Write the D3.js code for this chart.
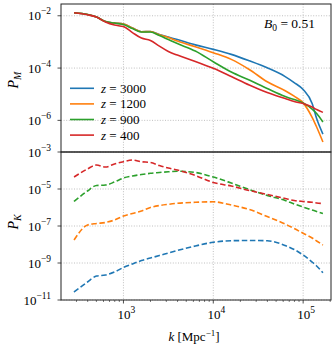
<!DOCTYPE html>
<html>
<head>
<meta charset="utf-8">
<script src="https://cdn.jsdelivr.net/npm/d3@7"></script>
<style>
  body { margin: 0; background: #fff; }
</style>
</head>
<body>
<svg width="334" height="350" font-family="'Liberation Serif', 'Times New Roman', 'DejaVu Serif', serif"></svg>
<script>
// wavenumbers k [Mpc^-1]
var kValues = [282, 398, 501, 631, 794, 1000, 1259, 1585, 1995, 2512, 3162, 3981,
  6310, 10000, 15850, 25120, 39810, 63100, 79430, 100000, 125900, 141300, 166000];

// top panel P_M
var pm3000 = [1.30e-2, 1.11e-2, 8.91e-3, 6.0e-3, 5.26e-3, 4.82e-3, 3.39e-3, 2.44e-3, 2.49e-3,
  1.91e-3, 1.53e-3, 1.23e-3, 7.71e-4, 5.19e-4, 3.34e-4, 1.90e-4, 1.02e-4, 4.73e-5, 2.79e-5,
  1.51e-5, 4.43e-6, 1.17e-6, 2.99e-7];
var pm1200 = [1.30e-2, 1.11e-2, 8.91e-3, 6.0e-3, 5.26e-3, 4.82e-3, 3.39e-3, 2.44e-3, 2.49e-3,
  1.87e-3, 1.47e-3, 1.08e-3, 6.53e-4, 3.85e-4, 2.15e-4, 8.83e-5, 2.99e-5, 1.36e-5, 8.41e-6,
  4.67e-6, 1.30e-6, 5.55e-7, 1.48e-7];
var pm900 = [1.30e-2, 1.11e-2, 8.91e-3, 6.0e-3, 5.26e-3, 4.60e-3, 3.24e-3, 2.38e-3, 2.38e-3,
  1.75e-3, 1.23e-3, 8.65e-4, 4.47e-4, 1.74e-4, 7.03e-5, 3.48e-5, 1.64e-5, 8.13e-6, 6.24e-6,
  4.59e-6, 2.70e-6, 1.82e-6, 8.61e-7];
var pm400 = [1.30e-2, 1.09e-2, 8.91e-3, 5.74e-3, 4.41e-3, 3.86e-3, 2.28e-3, 1.40e-3, 1.13e-3,
  6.93e-4, 4.28e-4, 3.14e-4, 1.80e-4, 9.75e-5, 4.73e-5, 2.24e-5, 1.16e-5, 6.82e-6, 5.24e-6,
  4.39e-6, 3.23e-6, 2.59e-6, 2.02e-6];

// bottom panel P_K
var pk3000 = [2.70e-11, 9.40e-11, 1.98e-10, 2.24e-10, 3.27e-10, 5.71e-10, 8.83e-10, 1.36e-9,
  1.86e-9, 2.54e-9, 3.48e-9, 4.74e-9, 8.30e-9, 1.32e-8, 1.60e-8, 1.64e-8, 1.60e-8, 8.83e-9,
  5.37e-9, 2.70e-9, 1.13e-9, 6.89e-10, 2.99e-10];
var pk1200 = [1.75e-8, 1.13e-7, 1.36e-7, 1.55e-7, 2.11e-7, 3.48e-7, 4.74e-7, 6.47e-7, 1.0e-6,
  1.28e-6, 1.49e-6, 1.69e-6, 1.91e-6, 2.03e-6, 1.36e-6, 7.80e-7, 3.27e-7, 1.28e-7, 7.33e-8,
  4.03e-8, 2.24e-8, 1.55e-8, 9.40e-9];
var pk900 = [2.11e-6, 7.80e-6, 1.55e-5, 1.64e-5, 2.39e-5, 3.94e-5, 5.05e-5, 6.08e-5, 7.06e-5,
  7.80e-5, 8.51e-5, 9.16e-5, 7.80e-5, 4.46e-5, 2.11e-5, 9.40e-6, 4.46e-6, 2.39e-6, 1.55e-6,
  1.06e-6, 7.33e-7, 6.08e-7, 4.74e-7];
var pk400 = [4.46e-5, 1.21e-4, 1.98e-4, 1.55e-4, 2.24e-4, 2.99e-4, 3.70e-4, 2.99e-4, 2.70e-4,
  1.86e-4, 1.36e-4, 1.06e-4, 5.37e-5, 2.24e-5, 1.45e-5, 8.30e-6, 5.05e-6, 3.06e-6, 2.39e-6,
  2.11e-6, 1.91e-6, 1.75e-6, 1.64e-6];

var seriesNames = ["3000", "1200", "900", "400"];
var colors = ["#1f77b4", "#ff7f0e", "#2ca02c", "#d62728"];
var topSeries = [pm3000, pm1200, pm900, pm400];
var bottomSeries = [pk3000, pk1200, pk900, pk400];

var xTicks = [1e3, 1e4, 1e5];
var topTicks = [1e-2, 1e-4, 1e-6];
var bottomTicks = [1e-3, 1e-5, 1e-7, 1e-9, 1e-11];

var svg = d3.select("svg");
var pLeft = 61, pRight = 331, pTop = 4, pMid = 152, pBottom = 300;

var x = d3.scaleLog().domain([Math.pow(10, 2.305), Math.pow(10, 5.31)]).range([pLeft, pRight]);
var yTop = d3.scaleLog().domain([Math.pow(10, -1.55), Math.pow(10, -7.21)]).range([pTop, pMid]);
var yBot = d3.scaleLog().domain([1e-3, 1e-11]).range([pMid, pBottom]);

function expLabel(sel, v) {
  var e = Math.round(Math.log10(v));
  sel.append("tspan").text("10").style("font-size", "13px");
  sel.append("tspan").text(String(e).replace("-", "\u2212"))
    .attr("dy", -6).style("font-size", "9.5px");
}

// grid
var grid = svg.append("g")
  .attr("stroke", "#b0b0b0").attr("stroke-width", 0.8).attr("stroke-dasharray", "1,1.6");
xTicks.forEach(function (t) {
  grid.append("line").attr("x1", x(t)).attr("x2", x(t)).attr("y1", pTop).attr("y2", pBottom);
});
topTicks.forEach(function (t) {
  grid.append("line").attr("x1", pLeft).attr("x2", pRight).attr("y1", yTop(t)).attr("y2", yTop(t));
});
bottomTicks.forEach(function (t) {
  grid.append("line").attr("x1", pLeft).attr("x2", pRight).attr("y1", yBot(t)).attr("y2", yBot(t));
});

// lines
var lineTop = d3.line().x(function (d, i) { return x(kValues[i]); })
  .y(function (d) { return yTop(d); }).curve(d3.curveMonotoneX);
var lineBot = d3.line().x(function (d, i) { return x(kValues[i]); })
  .y(function (d) { return yBot(d); }).curve(d3.curveMonotoneX);

topSeries.forEach(function (s, i) {
  svg.append("path").attr("d", lineTop(s)).attr("fill", "none")
    .attr("stroke", colors[i]).attr("stroke-width", 1.6);
});
bottomSeries.forEach(function (s, i) {
  svg.append("path").attr("d", lineBot(s)).attr("fill", "none")
    .attr("stroke", colors[i]).attr("stroke-width", 1.6)
    .attr("stroke-dasharray", "5.5,2.6");
});

// frames
svg.append("rect").attr("x", pLeft).attr("y", pTop).attr("width", pRight - pLeft)
  .attr("height", pMid - pTop).attr("fill", "none").attr("stroke", "#222").attr("stroke-width", 1);
svg.append("rect").attr("x", pLeft).attr("y", pMid).attr("width", pRight - pLeft)
  .attr("height", pBottom - pMid).attr("fill", "none").attr("stroke", "#222").attr("stroke-width", 1);

// y ticks and labels
function yAxis(scale, ticks) {
  ticks.forEach(function (t) {
    var yy = scale(t);
    svg.append("line").attr("x1", pLeft - 3.5).attr("x2", pLeft).attr("y1", yy).attr("y2", yy)
      .attr("stroke", "#222").attr("stroke-width", 0.8);
    var lab = svg.append("text").attr("x", 51).attr("y", yy + 4.5).attr("text-anchor", "end");
    expLabel(lab, t);
  });
}
yAxis(yTop, topTicks);
yAxis(yBot, bottomTicks);

// x ticks (major + minor) on bottom panel
var minor = [];
[100, 1000, 10000, 100000].forEach(function (dec) {
  for (var m = 2; m <= 9; m++) minor.push(dec * m);
});
minor.filter(function (v) { return v > x.domain()[0] && v < x.domain()[1]; })
  .forEach(function (v) {
    svg.append("line").attr("x1", x(v)).attr("x2", x(v)).attr("y1", pBottom).attr("y2", pBottom + 2)
      .attr("stroke", "#222").attr("stroke-width", 0.6);
  });
xTicks.forEach(function (t) {
  svg.append("line").attr("x1", x(t)).attr("x2", x(t)).attr("y1", pBottom).attr("y2", pBottom + 3.5)
    .attr("stroke", "#222").attr("stroke-width", 0.8);
  var lab = svg.append("text").attr("x", x(t) + 3).attr("y", 319).attr("text-anchor", "middle");
  expLabel(lab, t);
});

// axis labels
var pm = svg.append("text").attr("transform", "translate(18,80) rotate(-90)")
  .attr("text-anchor", "middle").style("font-size", "14px");
pm.append("tspan").text("P").style("font-style", "italic");
pm.append("tspan").text("M").attr("dy", 3).style("font-size", "10px").style("font-style", "italic");

var pk = svg.append("text").attr("transform", "translate(18,222) rotate(-90)")
  .attr("text-anchor", "middle").style("font-size", "14px");
pk.append("tspan").text("P").style("font-style", "italic");
pk.append("tspan").text("K").attr("dy", 3).style("font-size", "10px").style("font-style", "italic");

var xl = svg.append("text").attr("x", 194).attr("y", 341).attr("text-anchor", "middle")
  .style("font-size", "13px");
xl.append("tspan").text("k").style("font-style", "italic");
xl.append("tspan").text(" [Mpc");
xl.append("tspan").text("\u22121").attr("dy", -5).style("font-size", "9px");
xl.append("tspan").text("]").attr("dy", 5);

// B0 annotation
var b0 = svg.append("text").attr("x", 264).attr("y", 28).style("font-size", "13.5px");
b0.append("tspan").text("B").style("font-style", "italic");
b0.append("tspan").text("0").attr("dy", 3).style("font-size", "9.5px");
b0.append("tspan").text(" = 0.51").attr("dy", -3);

// legend
seriesNames.forEach(function (n, i) {
  var yy = 88.3 + i * 15.6;
  svg.append("line").attr("x1", 70).attr("x2", 94).attr("y1", yy).attr("y2", yy)
    .attr("stroke", colors[i]).attr("stroke-width", 1.6);
  var t = svg.append("text").attr("x", 101).attr("y", yy + 4.5).style("font-size", "13px");
  t.append("tspan").text("z").style("font-style", "italic");
  t.append("tspan").text(" = " + n);
});
</script>
</body>
</html>
